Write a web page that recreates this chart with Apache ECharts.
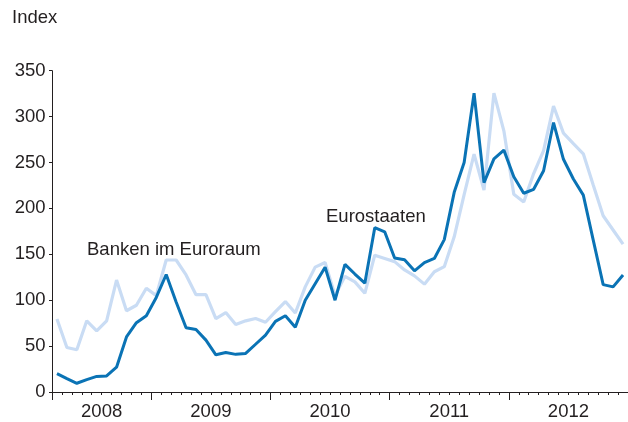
<!DOCTYPE html>
<html><head><meta charset="utf-8">
<script src="https://cdn.jsdelivr.net/npm/echarts@6/dist/echarts.min.js"></script>
<style>html,body{margin:0;padding:0;background:#fff}#c{width:628px;height:422px}</style>
</head><body><div id="c"></div>
<script>
var months = [
 '2008-03','2008-04','2008-05','2008-06','2008-07','2008-08','2008-09','2008-10','2008-11','2008-12',
 '2009-01','2009-02','2009-03','2009-04','2009-05','2009-06','2009-07','2009-08','2009-09','2009-10','2009-11','2009-12',
 '2010-01','2010-02','2010-03','2010-04','2010-05','2010-06','2010-07','2010-08','2010-09','2010-10','2010-11','2010-12',
 '2011-01','2011-02','2011-03','2011-04','2011-05','2011-06','2011-07','2011-08','2011-09','2011-10','2011-11','2011-12',
 '2012-01','2012-02','2012-03','2012-04','2012-05','2012-06','2012-07','2012-08','2012-09','2012-10','2012-11','2012-12'
];
var years = ['2008','2009','2010','2011','2012'];
var yTicks = [0,50,100,150,200,250,300,350];
var eurostaaten = [20,14.5,9.5,13.5,17,17.5,27,60,75.5,83,103,128,98,70,68,56.5,40.5,43,41,42,52,62,77,83,70.5,100,118,136,100,139,128.5,118.5,179,174.5,146,144,132,141,145.5,166,217.5,250,325.5,228,254,263.5,234.5,216.5,220.8,241,293.5,253.5,232,214.5,165.5,117,114.5,127.5];
var banken = [79.5,48.5,46,77.5,66.5,77.5,122,88.5,94.5,113,105,143.8,143.8,127.5,106,106,80,86.5,73.5,77.5,80,76,87.5,98.5,86,114.5,136,141,105,126,120,107.5,149,145.5,142,133,126.5,117.5,131,136.5,169,215,259,220,325.5,284.5,215.5,207,238,263,311.5,282,270.5,259.5,225.5,192,176.5,161];

// year boundaries / midpoints in month units (from the months list)
var yearStart = [], yearMid = [];
years.forEach(function(y){
  var first = months.findIndex(function(m){return m.slice(0,4)===y;});
  var last = months.length - 1 - months.slice().reverse().findIndex(function(m){return m.slice(0,4)===y;});
  yearStart.push(first);
  yearMid.push((first + last + 1) / 2);
});
var midToYear = {};
yearMid.forEach(function(v,i){ midToYear[v] = years[i]; });

var FONT = '"Liberation Sans", Arial, Helvetica, sans-serif';
var TXT = '#231f20';
var FS = 18.5;
var chart = echarts.init(document.getElementById('c'), null, {renderer:'canvas'});
chart.setOption({
  animation:false,
  backgroundColor:'#fff',
  grid:{left:52, right:0, top:70.7, bottom:30, containLabel:false},
  xAxis:[{
    type:'category', data:months, boundaryGap:true,
    axisLine:{show:true, lineStyle:{color:TXT, width:1}},
    axisTick:{show:true, interval:0, length:3, lineStyle:{color:TXT, width:1}},
    axisLabel:{show:false}, splitLine:{show:false}
  },{
    type:'value', min:0, max:months.length, position:'bottom',
    axisLine:{show:false},
    axisTick:{show:true, length:8, customValues:yearStart, lineStyle:{color:TXT, width:1}},
    axisLabel:{show:true, customValues:yearMid, margin:10.5, color:TXT, fontSize:FS, fontFamily:FONT,
      formatter:function(v){ return midToYear[v] || ''; }},
    splitLine:{show:false}
  }],
  yAxis:{
    type:'value', min:0, max:350, interval:50,
    axisLine:{show:true, lineStyle:{color:TXT, width:1}},
    axisTick:{show:true, length:3, lineStyle:{color:TXT, width:1}},
    axisLabel:{color:TXT, fontSize:FS, fontFamily:FONT, margin:6.5},
    splitLine:{show:false}
  },
  series:[{
    name:'Banken im Euroraum', type:'line', data:banken, symbol:'none',
    lineStyle:{color:'#c9dcf4', width:3.2}, z:2
  },{
    name:'Eurostaaten', type:'line', data:eurostaaten, symbol:'none',
    lineStyle:{color:'#0a73b5', width:3}, z:3
  }],
  graphic:[
    {type:'text', left:12, top:8.5, style:{text:'Index', fill:TXT, font:FS+'px '+FONT}},
    {type:'text', left:87, top:240, style:{text:'Banken im Euroraum', fill:TXT, font:FS+'px '+FONT}},
    {type:'text', left:326, top:207, style:{text:'Eurostaaten', fill:TXT, font:FS+'px '+FONT}}
  ]
});
</script></body></html>
